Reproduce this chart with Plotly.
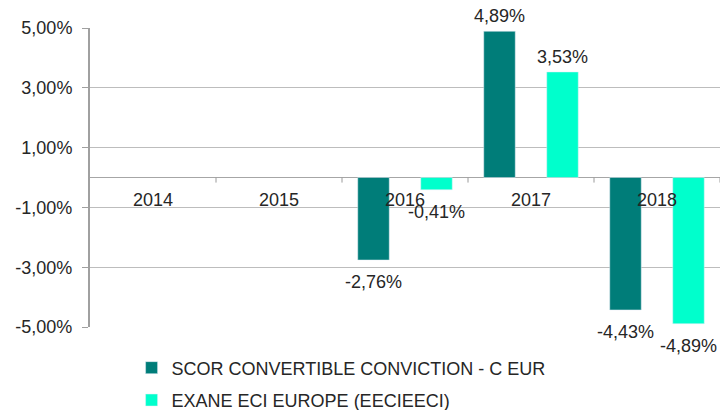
import plotly.graph_objects as go

years = ["2014", "2015", "2016", "2017", "2018"]
fund_name = "SCOR CONVERTIBLE CONVICTION - C EUR"
bench_name = "EXANE ECI EUROPE (EECIEECI)"
fund_values = [None, None, -2.76, 4.89, -4.43]
bench_values = [None, None, -0.41, 3.53, -4.89]
y_ticks = [5, 3, 1, -1, -3, -5]
y_tick_text = [f"{v:.2f}%".replace(".", ",") for v in y_ticks]

FONT = "Liberation Sans, Arial, sans-serif"
TXT = "#262626"
FS = 18
SLOT = 0.25  # half-slot offset of each bar inside its category group

fig = go.Figure()
fig.add_trace(go.Bar(
    x=years, y=fund_values, name=fund_name, marker_color="#007D79",
    legendgroup="a",
))
fig.add_trace(go.Bar(
    x=years, y=bench_values, name=bench_name, marker_color="#00FFCC",
    legendgroup="b",
))

# value labels
for series, off in ((fund_values, -SLOT), (bench_values, SLOT)):
    for i, v in enumerate(series):
        if v is None:
            continue
        pos = v >= 0
        fig.add_annotation(x=i + off, y=v, xref="x", yref="y",
                           text=f"{v:.2f}%".replace(".", ","), showarrow=False,
                           yanchor="bottom" if pos else "top",
                           yshift=3 if pos else -10,
                           font=dict(family=FONT, size=FS, color=TXT))

# category labels sitting just under the zero line
for i, yr in enumerate(years):
    fig.add_annotation(x=i, y=0, xref="x", yref="y", text=yr, showarrow=False,
                       yanchor="top", yshift=-10,
                       font=dict(family=FONT, size=FS, color=TXT))

# small tick marks on the zero line between categories
for k in range(len(years)):
    fig.add_shape(type="line", xref="x", yref="y", x0=k + 0.5, x1=k + 0.5,
                  y0=0, y1=-0.17, line=dict(color="#9A9A9A", width=1))

fig.update_layout(
    width=721, height=410,
    margin=dict(l=90, r=1, t=28, b=83, autoexpand=False),
    paper_bgcolor="white", plot_bgcolor="white",
    barmode="group", bargap=0.0, bargroupgap=0.5,
    font=dict(family=FONT, size=FS, color=TXT),
    showlegend=True,
    legend=dict(orientation="v", x=0.066, xanchor="left", y=-0.075, yanchor="top",
                font=dict(family=FONT, size=FS, color=TXT),
                tracegroupgap=6, itemwidth=30,
                bgcolor="rgba(0,0,0,0)"),
)
fig.update_xaxes(type="category", categoryorder="array", categoryarray=years,
                 range=[-0.5, 4.5], showticklabels=False, showgrid=False,
                 showline=False, ticks="", zeroline=False)
fig.update_yaxes(range=[-5, 5], tickvals=y_ticks, ticktext=y_tick_text,
                 automargin=False,
                 showgrid=True, gridcolor="#BDBDBD", gridwidth=1,
                 zeroline=True, zerolinecolor="#A6A6A6", zerolinewidth=1,
                 showline=True, linecolor="#A0A0A0", linewidth=2,
                 ticks="outside", ticklen=6, tickcolor="#A0A0A0",
                 ticklabelstandoff=6,
                 tickfont=dict(family=FONT, size=FS, color=TXT))

fig.write_html("out.html", config={"displayModeBar": False},
               post_script="document.body.style.margin='0px';document.body.style.overflow='hidden';")
